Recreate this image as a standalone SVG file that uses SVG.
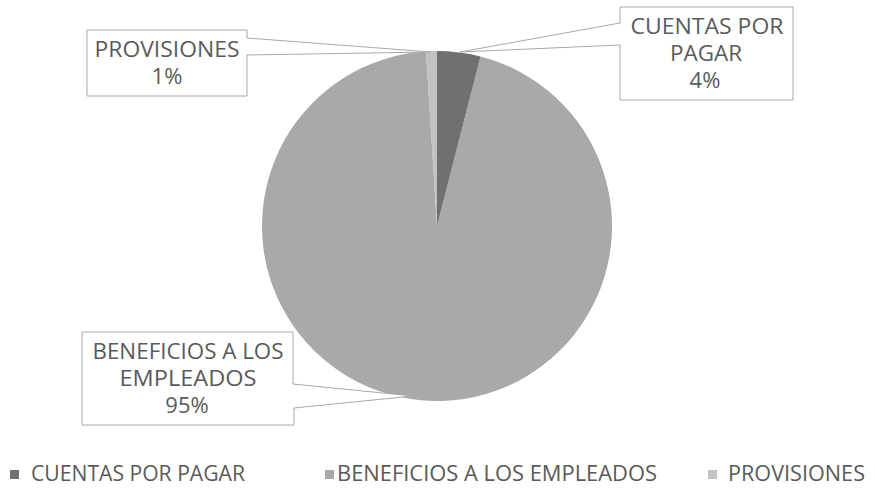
<svg xmlns="http://www.w3.org/2000/svg" width="875" height="491" viewBox="0 0 875 491">
<style>
.lbl{font-family:"Open Sans","Liberation Sans",sans-serif;font-size:22px;fill:#5a5a5a;text-anchor:middle}
.leg{font-family:"Open Sans","Liberation Sans",sans-serif;font-size:21px;fill:#5a5a5a}
.call{fill:#fff;stroke:#a8a8a8;stroke-width:1}
</style>
<rect width="875" height="491" fill="#fff"/>
<g id="pie">
  <path id="slice-beneficios" d="M437,226 L480.52,56.5 A175,175 0 1 1 426.01,51.35 Z" fill="#a9a9a9"/>
  <path id="slice-cuentas" d="M437,226 L437,51 A175,175 0 0 1 480.52,56.5 Z" fill="#707070"/>
  <path id="slice-provisiones" d="M437,226 L426.01,51.35 A175,175 0 0 1 437,51 Z" fill="#c2c2c2"/>
</g>
<g id="connectors">
  <path id="callout-provisiones" class="call" d="M87,30 H247 V38 L431,52 L247,55 V96 H87 Z"/>
  <path id="callout-cuentas" class="call" d="M620,7 H793 V100 H620 V45 L460,52 L620,23 Z"/>
  <path id="callout-beneficios" class="call" d="M82,332 H293 V384 L413,396 L294,408 V425 H82 Z"/>
</g>
<g id="label-provisiones">
  <text class="lbl" x="167" y="57" textLength="145" lengthAdjust="spacingAndGlyphs">PROVISIONES</text>
  <text class="lbl" x="167" y="84">1%</text>
</g>
<g id="label-cuentas">
  <text class="lbl" x="707" y="34" textLength="153" lengthAdjust="spacingAndGlyphs">CUENTAS POR</text>
  <text class="lbl" x="706" y="61" textLength="72" lengthAdjust="spacingAndGlyphs">PAGAR</text>
  <text class="lbl" x="705" y="88">4%</text>
</g>
<g id="label-beneficios">
  <text class="lbl" x="188" y="359" textLength="191" lengthAdjust="spacingAndGlyphs">BENEFICIOS A LOS</text>
  <text class="lbl" x="188" y="386" textLength="137" lengthAdjust="spacingAndGlyphs">EMPLEADOS</text>
  <text class="lbl" x="187" y="413">95%</text>
</g>
<g id="legend">
  <rect x="10" y="470" width="9" height="9" fill="#707070"/>
  <text class="leg" x="31" y="481" textLength="214" lengthAdjust="spacingAndGlyphs">CUENTAS POR PAGAR</text>
  <rect x="325" y="470" width="9" height="9" fill="#a9a9a9"/>
  <text class="leg" x="337" y="481" textLength="320" lengthAdjust="spacingAndGlyphs">BENEFICIOS A LOS EMPLEADOS</text>
  <rect x="708" y="470" width="9" height="9" fill="#c2c2c2"/>
  <text class="leg" x="728" y="481" textLength="137" lengthAdjust="spacingAndGlyphs">PROVISIONES</text>
</g>
</svg>
